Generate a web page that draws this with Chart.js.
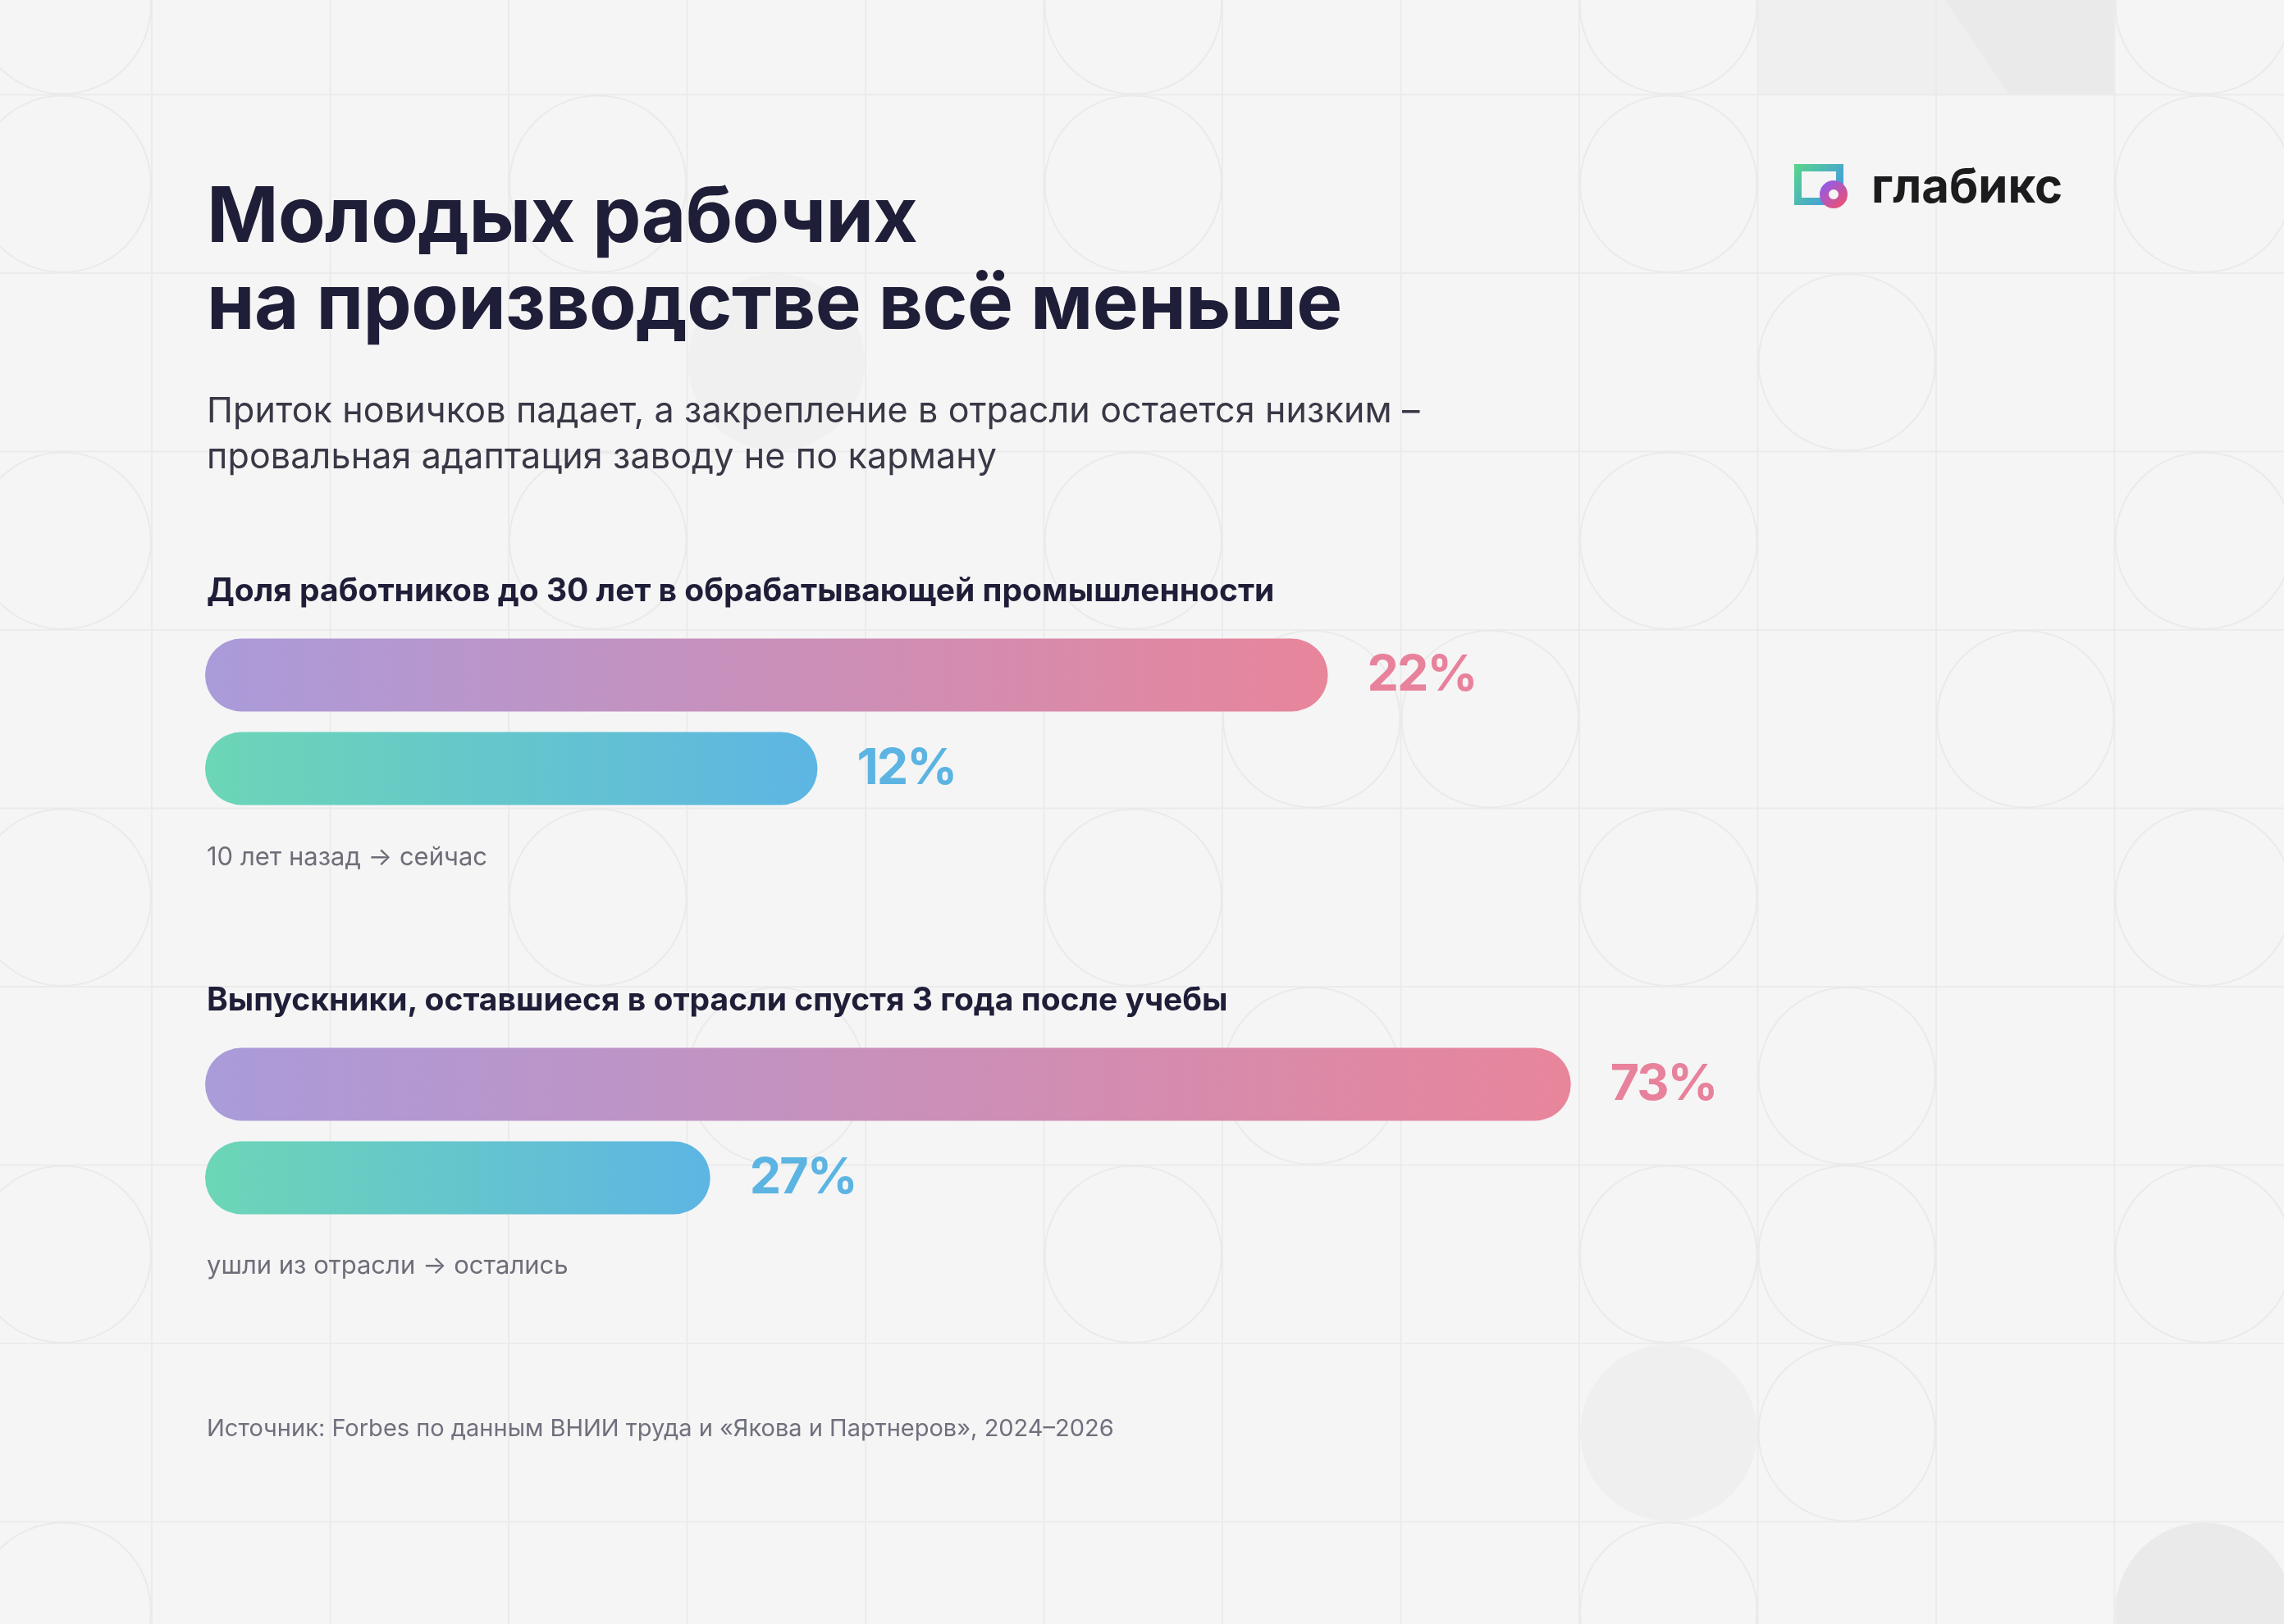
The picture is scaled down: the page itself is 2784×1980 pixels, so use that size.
<!DOCTYPE html>
<html lang="ru">
<head>
<meta charset="utf-8">
<title>Молодых рабочих на производстве всё меньше</title>
<script src="https://cdn.jsdelivr.net/npm/chart.js@4.4.1/dist/chart.umd.min.js"></script>
<style>
  html, body { margin: 0; padding: 0; }
  body {
    width: 2784px;
    height: 1980px;
    position: relative;
    overflow: hidden;
    background: #f5f5f5;
    font-family: Inter, "Noto Sans", sans-serif;
  }
  #bg { position: absolute; left: 0; top: 0; }
  .txt { position: absolute; white-space: nowrap; }
  .title {
    left: 252px; top: 208px;
    font-size: 94px; line-height: 106px; font-weight: 700;
    color: #1f1e38; letter-spacing: -0.6px;
  }
  .subtitle {
    left: 252px; top: 471px;
    font-size: 43px; line-height: 56px; font-weight: 400;
    color: #383846; letter-spacing: 0.15px;
  }
  .heading {
    left: 252px;
    font-size: 39px; line-height: 46px; font-weight: 700;
    color: #1f1e38;
  }
  .caption {
    left: 252px;
    font-size: 31px; line-height: 36px;
    color: #6e6e7a;
  }
  .source {
    left: 252px; top: 1724px;
    font-size: 29px; line-height: 34px;
    color: #6f6f7d;
  }
  .chart-box { position: absolute; left: 250px; width: 2000px; height: 228px; }
  .logo-text {
    left: 2281px; top: 191px;
    font-size: 58px; line-height: 70px; font-weight: 700;
    color: #1c1c1e;
  }
  #logo { position: absolute; left: 2180px; top: 192px; }
</style>
</head>
<body>
<canvas id="bg" width="2784" height="1980"></canvas>

<canvas id="logo" width="80" height="70"></canvas>
<div class="txt logo-text">глабикс</div>

<div class="txt title">Молодых рабочих<br>на производстве всё меньше</div>
<div class="txt subtitle">Приток новичков падает, а закрепление в отрасли остается низким –<br>провальная адаптация заводу не по карману</div>

<div class="txt heading" style="top: 696px;">Доля работников до 30 лет в обрабатывающей промышленности</div>
<div class="chart-box" style="top: 766px;"><canvas id="youngChart"></canvas></div>
<div class="txt caption" style="top: 1026px;">10 лет назад → сейчас</div>

<div class="txt heading" style="top: 1195px;">Выпускники, оставшиеся в отрасли спустя 3 года после учебы</div>
<div class="chart-box" style="top: 1265px;"><canvas id="gradChart"></canvas></div>
<div class="txt caption" style="top: 1524px;">ушли из отрасли → остались</div>

<div class="txt source">Источник: Forbes по данным ВНИИ труда и «Якова и Партнеров», 2024–2026</div>

<script>
// chart data
const youngCategories = ["10 лет назад", "сейчас"];
const youngShare = [22, 12];

const gradCategories = ["ушли из отрасли", "остались"];
const gradShare = [73, 27];

// axis limits of each panel (the two panels use their own scale)
const youngAxisMax = 32.15;
const gradAxisMax = 87.7;

const barGradients = [
  ["#aa9bda", "#e8859b"],
  ["#6cd6b6", "#5db5e3"],
];
const labelColors = ["#e8819b", "#5bb4e2"];

// faint geometric backdrop
function drawBackdrop() {
  const c = document.getElementById("bg").getContext("2d");
  const cell = 217.5;
  const x0 = 185;
  const y0 = 115.5;

  // pale blocks
  c.fillStyle = "#efefef";
  c.fillRect(x0 + 9 * cell, 0, 2 * cell, y0);
  c.fillStyle = "#eaeaea";
  c.beginPath();
  c.moveTo(2371, 0);
  c.lineTo(x0 + 11 * cell, 0);
  c.lineTo(x0 + 11 * cell, y0);
  c.lineTo(2449, y0);
  c.closePath();
  c.fill();

  c.strokeStyle = "#ebebeb";
  c.lineWidth = 2;
  for (let k = 0; k < 12; k++) {
    const x = x0 + k * cell;
    c.beginPath();
    c.moveTo(x, 0);
    c.lineTo(x, 1980);
    c.stroke();
  }
  for (let j = 0; j < 9; j++) {
    const y = y0 + j * cell;
    c.beginPath();
    c.moveTo(0, y);
    c.lineTo(2784, y);
    c.stroke();
  }

  const rings = [
    [-1, -1], [-1, 0], [-1, 2], [-1, 4], [-1, 6], [-1, 8],
    [2, 0], [2, 2], [2, 4],
    [3, 5],
    [5, -1], [5, 0], [5, 2], [5, 4], [5, 6],
    [6, 3], [6, 5],
    [7, 3],
    [8, -1], [8, 0], [8, 2], [8, 4], [8, 6], [8, 8],
    [9, 1], [9, 5], [9, 6], [9, 7],
    [10, 3],
    [11, -1], [11, 0], [11, 2], [11, 4], [11, 6],
  ];
  const discs = [
    [3, 1, "#f0f0f0"],
    [8, 7, "#efefef"],
    [11, 8, "#eaeaea"],
  ];
  const r = cell / 2 - 1;
  discs.forEach(([k, j, col]) => {
    c.fillStyle = col;
    c.beginPath();
    c.arc(x0 + (k + 0.5) * cell, y0 + (j + 0.5) * cell, r, 0, Math.PI * 2);
    c.fill();
  });
  c.strokeStyle = "#eaeaea";
  rings.forEach(([k, j]) => {
    c.beginPath();
    c.arc(x0 + (k + 0.5) * cell, y0 + (j + 0.5) * cell, r, 0, Math.PI * 2);
    c.stroke();
  });
}

function drawLogo() {
  const c = document.getElementById("logo").getContext("2d");
  // square frame
  const g = c.createLinearGradient(7, 8, 67, 58);
  g.addColorStop(0, "#58d68a");
  g.addColorStop(1, "#3f8ff0");
  c.strokeStyle = g;
  c.lineWidth = 9;
  c.beginPath();
  c.moveTo(46, 53.5);
  c.lineTo(11.5, 53.5);
  c.lineTo(11.5, 12.5);
  c.lineTo(62.5, 12.5);
  c.lineTo(62.5, 34);
  c.stroke();
  // ring
  const rg = c.createLinearGradient(42, 30, 68, 60);
  rg.addColorStop(0, "#8b5cf0");
  rg.addColorStop(1, "#f0506e");
  c.strokeStyle = rg;
  c.lineWidth = 11;
  c.beginPath();
  c.arc(55, 45, 11.5, 0, Math.PI * 2);
  c.stroke();
}

const valueLabels = {
  id: "valueLabels",
  afterDatasetsDraw(chart) {
    const c = chart.ctx;
    const meta = chart.getDatasetMeta(0);
    const values = chart.data.datasets[0].data;
    c.save();
    c.font = "700 61px Inter, 'Noto Sans', sans-serif";
    c.letterSpacing = "-2px";
    c.textBaseline = "middle";
    c.textAlign = "left";
    meta.data.forEach((bar, i) => {
      c.fillStyle = labelColors[i];
      c.fillText(values[i] + "%", bar.x + 48, bar.y + 1);
    });
    c.restore();
  },
};

function barFill(ctx) {
  const chart = ctx.chart;
  if (!chart.chartArea) return barGradients[ctx.dataIndex][0];
  const scale = chart.scales.x;
  const start = scale.getPixelForValue(0);
  const end = scale.getPixelForValue(ctx.raw);
  const g = chart.ctx.createLinearGradient(start, 0, end, 0);
  g.addColorStop(0, barGradients[ctx.dataIndex][0]);
  g.addColorStop(1, barGradients[ctx.dataIndex][1]);
  return g;
}

function makeBars(id, labels, values, axisMax) {
  return new Chart(document.getElementById(id), {
    type: "bar",
    data: {
      labels: labels,
      datasets: [
        {
          data: values,
          backgroundColor: barFill,
          borderWidth: 0,
          borderRadius: 45,
          borderSkipped: false,
          barPercentage: 1,
          categoryPercentage: 89 / 114,
        },
      ],
    },
    options: {
      indexAxis: "y",
      responsive: true,
      maintainAspectRatio: false,
      animation: false,
      layout: { padding: 0 },
      plugins: { legend: { display: false }, tooltip: { enabled: false } },
      scales: {
        x: { display: false, min: 0, max: axisMax },
        y: { display: false },
      },
    },
    plugins: [valueLabels],
  });
}

drawBackdrop();
drawLogo();
makeBars("youngChart", youngCategories, youngShare, youngAxisMax);
makeBars("gradChart", gradCategories, gradShare, gradAxisMax);
</script>
</body>
</html>
